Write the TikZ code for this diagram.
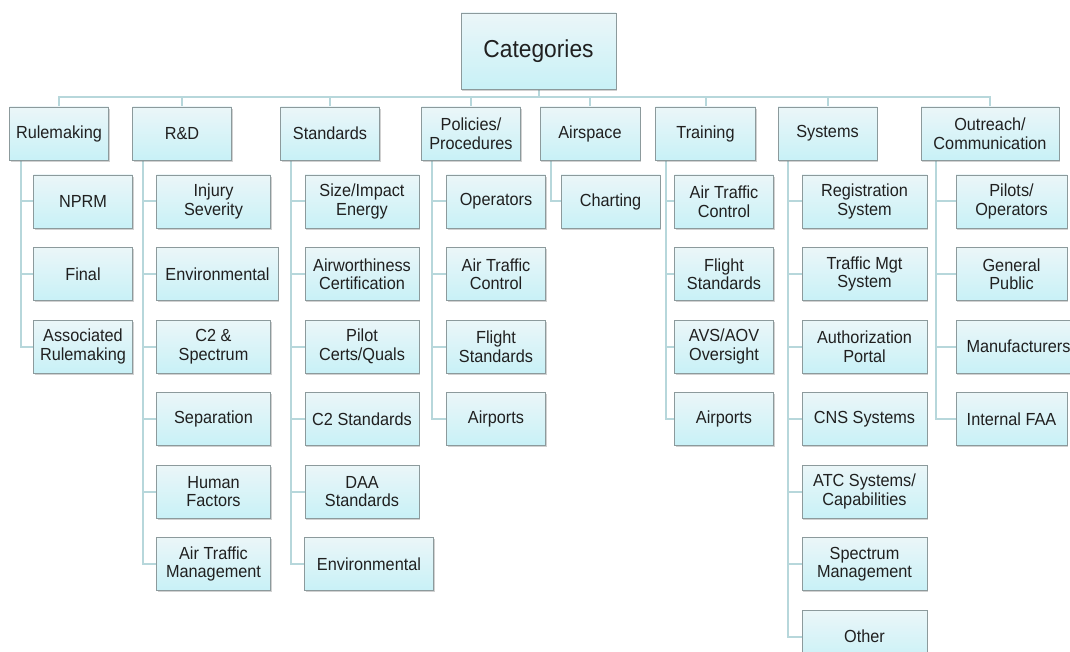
\documentclass[tikz,border=0pt]{standalone}
\usepackage{fontspec}
\setmainfont{Liberation Sans}[FakeStretch=0.93]
\usetikzlibrary{shadows,backgrounds}
\definecolor{catedge}{HTML}{8C9A9C}
\definecolor{cattop}{HTML}{EBF6F8}
\definecolor{catbot}{HTML}{C8F1F7}
\definecolor{catline}{HTML}{B7D7DB}
\definecolor{cattext}{HTML}{202020}
\tikzset{
  boxbase/.style={draw=catedge, line width=0.9pt, top color=cattop,
                  bottom color=catbot, text=cattext, align=center,
                  inner sep=2pt,
                  drop shadow={shadow xshift=1.2pt, shadow yshift=-1.6pt,
                               opacity=0.3, fill=black!60}},
  root/.style={boxbase, minimum width=155pt, minimum height=76pt,
               font=\fontsize{24.5}{26}\selectfont},
  group/.style={boxbase, minimum width=99pt, minimum height=53pt,
                font=\fontsize{17.5}{18.5}\selectfont},
  leaf/.style={group},
  link/.style={draw=catline, line width=2pt},
}

\begin{document}
\begin{tikzpicture}[x=1pt, y=-1pt]
\useasboundingbox (0,0) rectangle (1070,652);
\clip (0,0) rectangle (1070,652);

\node[root] (cat) at (538.5,51) {Categories};

% first level
\node[group] (rule) at (59,133.5) {Rulemaking};
\node[group] (rd)   at (182,133.5) {R\&D};
\node[group] (std)  at (330,133.5) {Standards};
\node[group] (pol)  at (471,133.5) {Policies/\\Procedures};
\node[group, minimum width=100pt] (air) at (590,133.5) {Airspace};
\node[group, minimum width=100pt] (trn) at (705.5,133.5) {Training};
\node[group] (sys)  at (827.5,133.5) {Systems};
\node[group, minimum width=138pt] (out) at (990,133.5) {Outreach/\\Communication};

% rulemaking
\node[leaf] (nprm)  at (83,201.5) {NPRM};
\node[leaf] (final) at (83,274) {Final};
\node[leaf] (assoc) at (83,346.5) {Associated\\Rulemaking};

% r&d
\node[leaf, minimum width=114pt] (injury) at (213.5,201.5) {Injury\\Severity};
\node[leaf, minimum width=121.5pt] (renv)  at (217.5,274) {Environmental};
\node[leaf, minimum width=114pt] (c2sp)   at (213.5,346.5) {C2 \&\\Spectrum};
\node[leaf, minimum width=114pt] (sep)    at (213.5,419) {Separation};
\node[leaf, minimum width=114pt] (human)  at (213.5,491.5) {Human\\Factors};
\node[leaf, minimum width=114pt] (atm)    at (213.5,564) {Air Traffic\\Management};

% standards
\node[leaf, minimum width=114pt] (size)  at (362,201.5) {Size/Impact\\Energy};
\node[leaf, minimum width=114pt] (airw)  at (362,274) {Airworthiness\\Certification};
\node[leaf, minimum width=114pt] (pilot) at (362,346.5) {Pilot\\Certs/Quals};
\node[leaf, minimum width=114pt] (c2std) at (362,419) {C2 Standards};
\node[leaf, minimum width=114pt] (daa)   at (362,491.5) {DAA\\Standards};
\node[leaf, minimum width=129pt] (senv)  at (369,564) {Environmental};

% policies/procedures
\node[leaf] (ops)  at (496,201.5) {Operators};
\node[leaf] (patc) at (496,274) {Air Traffic\\Control};
\node[leaf] (pfs)  at (496,346.5) {Flight\\Standards};
\node[leaf] (papt) at (496,419) {Airports};

% airspace
\node[leaf] (chart) at (610.5,201.5) {Charting};

% training
\node[leaf] (tatc) at (724,201.5) {Air Traffic\\Control};
\node[leaf] (tfs)  at (724,274) {Flight\\Standards};
\node[leaf] (avs)  at (724,346.5) {AVS/AOV\\Oversight};
\node[leaf] (tapt) at (724,419) {Airports};

% systems
\node[leaf, minimum width=125pt] (reg)   at (864.5,201.5) {Registration\\System};
\node[leaf, minimum width=125pt] (tmgt)  at (864.5,274) {Traffic Mgt\\System};
\node[leaf, minimum width=125pt] (auth)  at (864.5,346.5) {Authorization\\Portal};
\node[leaf, minimum width=125pt] (cns)   at (864.5,419) {CNS Systems};
\node[leaf, minimum width=125pt] (atcs)  at (864.5,491.5) {ATC Systems/\\Capabilities};
\node[leaf, minimum width=125pt] (spec)  at (864.5,564) {Spectrum\\Management};
\node[leaf, minimum width=125pt] (other) at (864.5,636.5) {Other};

% outreach/communication
\node[leaf, minimum width=111pt] (pilots) at (1011.5,201.5) {Pilots/\\Operators};
\node[leaf, minimum width=111pt] (public) at (1011.5,274) {General\\Public};
\node[leaf, minimum width=125pt] (manu)   at (1018.5,346.5) {Manufacturers};
\node[leaf, minimum width=111pt] (faa)    at (1011.5,419) {Internal FAA};

\begin{scope}[on background layer]
  \foreach \g in {rule,rd,std,pol,air,trn,sys,out}
    \draw[link] (cat.south) -- ++(0,8) -| (\g.north);
  \foreach \c in {nprm,final,assoc}
    \draw[link] ([xshift=11.5pt]rule.south west) |- (\c.west);
  \foreach \c in {injury,renv,c2sp,sep,human,atm}
    \draw[link] ([xshift=10.5pt]rd.south west) |- (\c.west);
  \foreach \c in {size,airw,pilot,c2std,daa,senv}
    \draw[link] ([xshift=10.5pt]std.south west) |- (\c.west);
  \foreach \c in {ops,patc,pfs,papt}
    \draw[link] ([xshift=10.5pt]pol.south west) |- (\c.west);
  \draw[link] ([xshift=11.5pt]air.south west) |- (chart.west);
  \foreach \c in {tatc,tfs,avs,tapt}
    \draw[link] ([xshift=10.5pt]trn.south west) |- (\c.west);
  \foreach \c in {reg,tmgt,auth,cns,atcs,spec,other}
    \draw[link] ([xshift=10.5pt]sys.south west) |- (\c.west);
  \foreach \c in {pilots,public,manu,faa}
    \draw[link] ([xshift=15pt]out.south west) |- (\c.west);
\end{scope}

\end{tikzpicture}
\end{document}
